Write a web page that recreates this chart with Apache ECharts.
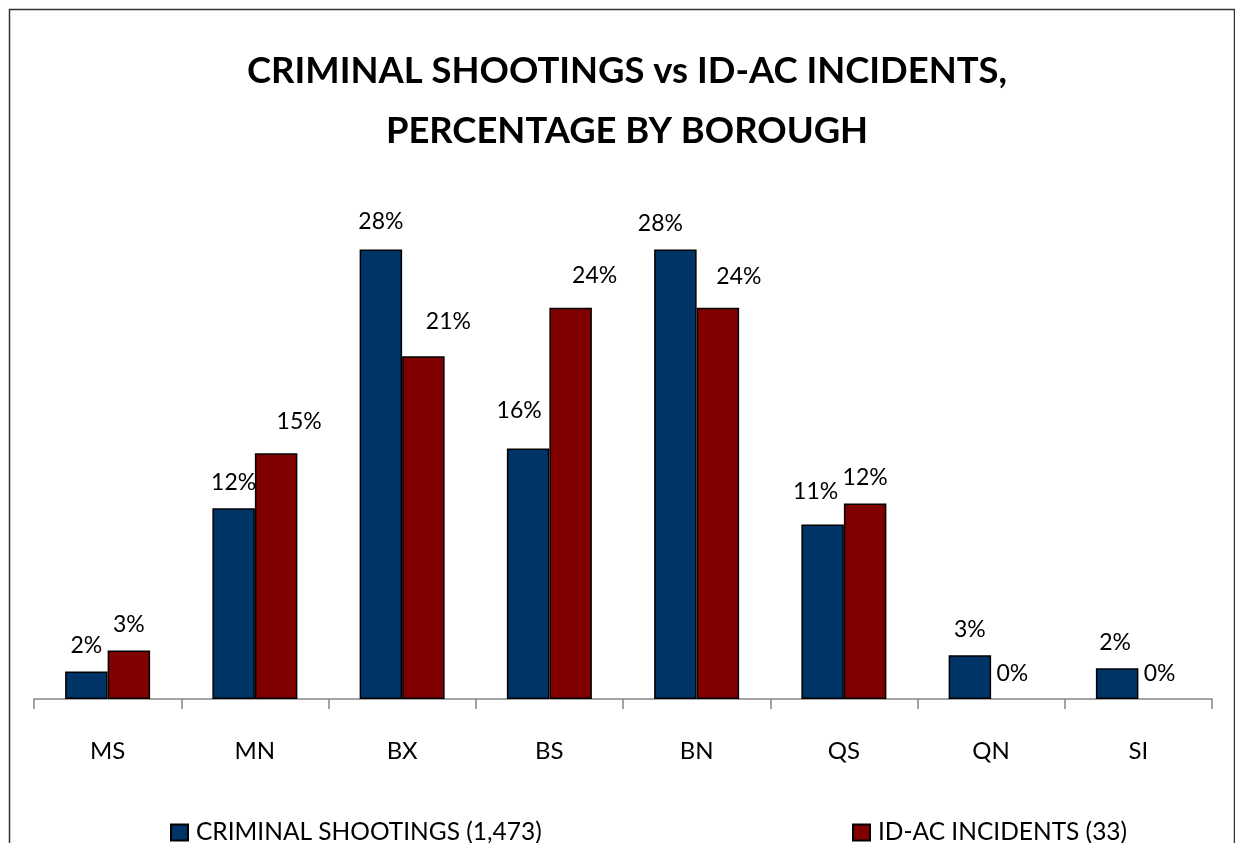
<!DOCTYPE html>
<html>
<head>
<meta charset="utf-8">
<script src="https://cdn.jsdelivr.net/npm/echarts@6/dist/echarts.min.js"></script>
<style>
html,body{margin:0;padding:0;background:#fff;}
#chart{width:1235px;height:843px;}
</style>
</head>
<body>
<div id="chart"></div>
<script>
// ---- data ----
const categories = ['MS', 'MN', 'BX', 'BS', 'BN', 'QS', 'QN', 'SI'];
const shootingsName = 'CRIMINAL SHOOTINGS (1,473)';
const incidentsName = 'ID-AC INCIDENTS (33)';
const shootingsPct = [1.7, 11.8, 27.8, 15.5, 27.8, 10.8, 2.7, 1.9];
const incidentsPct = [3.0, 15.2, 21.2, 24.2, 24.2, 12.1, 0, 0];

// ---- label nudges (style only) ----
const shootingsLabelShift = [[0,0],[0,0],[0,-2],[-9,-12],[-15,0],[-7,-7],[0,0],[-2,0]];
const incidentsLabelShift = [[0,0],[23,-6],[25,-9],[24,-7],[21,-6],[0,0],[0,0],[0,0]];

const FONT = 'Lato';
const chart = echarts.init(document.getElementById('chart'), null, {renderer: 'canvas'});

function buildData(vals, shifts) {
  return vals.map((v, i) => {
    const item = { value: v, label: { offset: shifts[i] } };
    if (v === 0) item.itemStyle = { borderWidth: 0 };
    return item;
  });
}

const labelCfg = {
  show: true,
  position: 'top',
  distance: 14,
  fontFamily: FONT,
  fontSize: 23,
  lineHeight: 23,
  color: '#000',
  formatter: p => Math.round(p.value) + '%'
};

const legendText = { fontFamily: FONT, fontSize: 24.5, color: '#000', padding: [0, 0, 0, 3] };

chart.setOption({
  animation: false,
  backgroundColor: '#fff',
  title: {
    text: 'CRIMINAL SHOOTINGS vs ID-AC INCIDENTS,\nPERCENTAGE BY BOROUGH',
    left: 622, textAlign: 'center', top: 36,
    textStyle: { fontFamily: FONT, fontWeight: 'bold', fontSize: 36.4, lineHeight: 60, color: '#000' }
  },
  legend: [{
    data: [shootingsName], left: 165, top: 815, icon: 'rect',
    itemWidth: 17, itemHeight: 16, itemGap: 10,
    textStyle: legendText
  }, {
    data: [incidentsName], left: 847, top: 815, icon: 'rect',
    itemWidth: 17, itemHeight: 16, itemGap: 10,
    textStyle: legendText
  }],
  grid: { left: 34, right: 23, top: 214, bottom: 144, containLabel: false },
  xAxis: {
    type: 'category',
    data: categories,
    axisLine: { lineStyle: { color: '#868686', width: 1.5 } },
    axisTick: { show: true, length: 10, lineStyle: { color: '#868686', width: 1.5 } },
    axisLabel: { fontFamily: FONT, fontSize: 24, color: '#000', margin: 40 }
  },
  yAxis: { type: 'value', min: 0, max: 30, show: false, splitLine: { show: false } },
  series: [{
    name: shootingsName, type: 'bar', barWidth: 42.5, barGap: '0%',
    itemStyle: { color: '#003366', borderColor: '#000', borderWidth: 1.5 },
    label: labelCfg,
    data: buildData(shootingsPct, shootingsLabelShift)
  }, {
    name: incidentsName, type: 'bar', barWidth: 42.5, barGap: '0%',
    itemStyle: { color: '#800000', borderColor: '#000', borderWidth: 1.5 },
    label: labelCfg,
    data: buildData(incidentsPct, incidentsLabelShift)
  }],
  graphic: [{
    type: 'rect', left: 7, top: 7, silent: true,
    shape: { width: 1225, height: 900 },
    style: { fill: 'none', stroke: '#333', lineWidth: 1.5 }
  }]
});
</script>
</body>
</html>
